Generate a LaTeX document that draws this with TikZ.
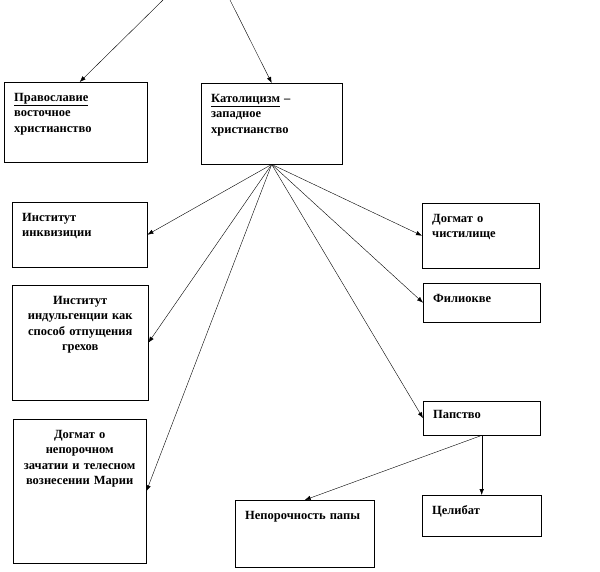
\documentclass[tikz,border=0pt]{standalone}
\usepackage{fontspec}
\setmainfont{Liberation Serif}
\usetikzlibrary{arrows.meta}
\begin{document}
\begin{tikzpicture}[x=1pt,y=-1pt,
	box/.style={draw,anchor=north west,font=\bfseries\fontsize{12.5}{15.5}\selectfont,
		inner xsep=10pt,inner ysep=10pt,text height=9pt,align=left},
	arr/.style={-{Latex[length=6pt,width=4.5pt]},thin}]
\useasboundingbox (0,0) rectangle (600,571);
% upper row
\node[box,text width=123pt,text depth=51pt] (orth) at (4,82)
	{\underline{Православие}\\восточное\\христианство};
\node[box,text width=121pt,text depth=52pt] (cath) at (201,83)
	{\underline{Католицизм} –\\западное\\христианство};
% left column
\node[box,text width=115pt,text depth=36pt] (inq) at (12,202)
	{Институт\\инквизиции};
\node[box,align=center,text width=116pt,text depth=86pt] (indul) at (12,285)
	{Институт\\индульгенции как\\способ отпущения\\грехов};
\node[box,align=center,text width=113pt,text depth=115pt] (maria) at (13,419)
	{Догмат о\\непорочном\\зачатии и телесном\\вознесении Марии};
% right column
\node[box,text width=97pt,text depth=36pt] (purg) at (422,203)
	{Догмат о\\чистилище};
\node[box,text width=97pt,text depth=10pt] (filio) at (423,283) {Филиокве};
\node[box,text width=97pt,inner ysep=8pt,text depth=9pt] (papacy) at (423,401) {Папство};
% bottom row
\node[box,text width=119pt,text depth=38pt] (infall) at (235,500) {Непорочность папы};
\node[box,text width=99pt,text depth=12pt] (celib) at (422,495) {Целибат};
% connectors
\coordinate (topL) at (163,0);
\coordinate (topR) at (230,0);
\draw[arr] (topL) -- ([xshift=4pt]orth.north);
\draw[arr] (topR) -- (cath.north);
\foreach \t in {inq,indul,maria}
	\draw[arr] (cath.south) -- (\t.east);
\foreach \t in {purg,filio,papacy}
	\draw[arr] (cath.south) -- (\t.west);
\draw[arr] (papacy.south) -- (infall.north);
\draw[arr] (papacy.south) -- (celib.north);
\end{tikzpicture}
\end{document}
